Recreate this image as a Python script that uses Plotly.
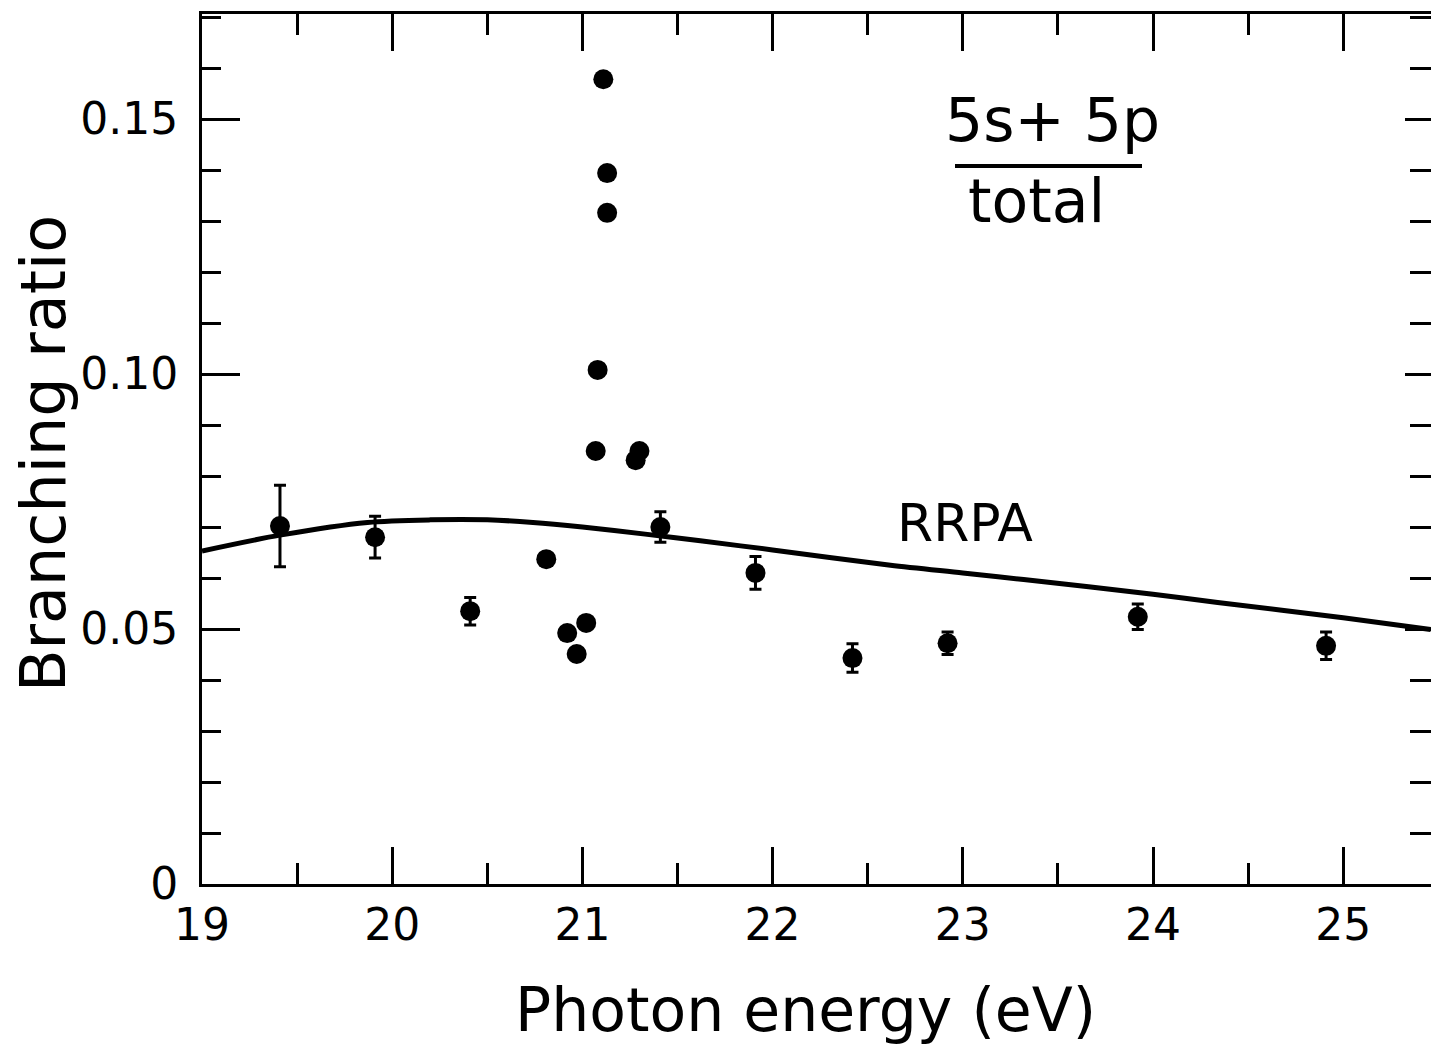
import plotly.graph_objects as go

# ---- data ----
energy = [19.41, 19.91, 20.41, 20.81, 20.92, 20.97, 21.02, 21.07, 21.08, 21.11,
          21.13, 21.13, 21.28, 21.30, 21.41, 21.91, 22.42, 22.92, 23.92, 24.91]
ratio = [0.0702, 0.0680, 0.0535, 0.0637, 0.0492, 0.0451, 0.0512, 0.0849, 0.1008, 0.1578,
         0.1394, 0.1316, 0.0831, 0.0849, 0.0700, 0.0610, 0.0443, 0.0472, 0.0524, 0.0467]
err = [0.0080, 0.0041, 0.0027, None, None, None, None, None, None, None,
       None, None, None, None, 0.0030, 0.0032, 0.0028, 0.0022, 0.0025, 0.0027]

rrpa_energy = [19.0, 19.41, 19.87, 20.2, 20.5, 20.74, 21.0, 21.33, 21.62, 22.0,
               22.62, 23.0, 23.32, 24.0, 24.34, 25.0, 25.46]
rrpa_ratio = [0.0653, 0.0684, 0.0709, 0.0714, 0.0714, 0.0709, 0.0700, 0.0686, 0.0673, 0.0655,
              0.0625, 0.0610, 0.0597, 0.0568, 0.0552, 0.0522, 0.0499]

x_ticks = [19, 20, 21, 22, 23, 24, 25]
y_ticks = [0, 0.05, 0.10, 0.15]
y_ticktext = ["0", "0.05", "0.10", "0.15"]

# ---- layout geometry (pixels) ----
W, H = 1431, 1047
L, R, T, B = 202, 0, 14, 163
PW, PH = W - L - R, H - T - B
XMIN, XPX = 19.0, 190.2      # px per eV
YPX = 5100.0                  # px per unit ratio
FONT = "DejaVu Sans"
YRANGE = [0, PH / YPX]


def px(xp):
    return (xp - L) / PW


def py(yp):
    return (H - B - yp) / PH


fig = go.Figure()

fig.add_trace(go.Scatter(
    x=rrpa_energy, y=rrpa_ratio, mode="lines",
    line=dict(color="black", width=5, shape="spline", smoothing=0.8),
    hoverinfo="skip", showlegend=False))

e_err = [e for e, s in zip(energy, err) if s is not None]
r_err = [r for r, s in zip(ratio, err) if s is not None]
s_err = [s for s in err if s is not None]
e_no = [e for e, s in zip(energy, err) if s is None]
r_no = [r for r, s in zip(ratio, err) if s is None]

fig.add_trace(go.Scatter(
    x=e_err, y=r_err, mode="markers",
    marker=dict(color="black", size=20),
    error_y=dict(type="data", array=s_err, visible=True, color="black",
                 thickness=3, width=6),
    showlegend=False))
fig.add_trace(go.Scatter(
    x=e_no, y=r_no, mode="markers",
    marker=dict(color="black", size=20),
    showlegend=False))
# invisible trace anchoring the right-hand tick axis
fig.add_trace(go.Scatter(x=[XMIN], y=[0], yaxis="y2", mode="markers",
                         marker=dict(opacity=0), hoverinfo="skip",
                         showlegend=False))

tickfont = dict(family=FONT, size=44, color="black")

fig.update_layout(
    xaxis=dict(
        range=[XMIN, XMIN + PW / XPX],
        showline=True, linecolor="black", linewidth=3, mirror="ticks",
        ticks="inside", tickcolor="black", tickwidth=3, ticklen=37,
        tickmode="array", tickvals=x_ticks, ticktext=[str(v) for v in x_ticks],
        ticklabelstandoff=0,
        minor=dict(dtick=0.5, tick0=19, ticks="inside", ticklen=21,
                   tickwidth=3, tickcolor="black", showgrid=False),
        showgrid=False, zeroline=False, tickfont=tickfont),
    yaxis=dict(
        range=YRANGE,
        showline=True, linecolor="black", linewidth=3, mirror=False,
        ticks="inside", tickcolor="black", tickwidth=3, ticklen=38,
        tickmode="array", tickvals=y_ticks, ticktext=y_ticktext,
        ticklabelstandoff=12,
        minor=dict(dtick=0.01, tick0=0, ticks="inside", ticklen=19,
                   tickwidth=3, tickcolor="black", showgrid=False),
        showgrid=False, zeroline=False, tickfont=tickfont),
    yaxis2=dict(
        range=YRANGE, overlaying="y", side="right",
        showline=False, showticklabels=False,
        ticks="inside", tickcolor="black", tickwidth=3, ticklen=26,
        tickmode="array", tickvals=y_ticks,
        minor=dict(dtick=0.01, tick0=0, ticks="inside", ticklen=21,
                   tickwidth=3, tickcolor="black", showgrid=False),
        showgrid=False, zeroline=False),
)

annotations = [
    dict(text="Photon energy (eV)", x=px(805), y=py(1010), size=60),
    dict(text="Branching ratio", x=px(43), y=py(454), size=62, angle=-90),
    dict(text="5s+ 5p", x=px(1052), y=py(120), size=60),
    dict(text="total", x=px(1036), y=py(201), size=60),
    dict(text="RRPA", x=px(965), y=py(523), size=52),
]
fig.update_layout(annotations=[
    dict(text=a["text"], x=a["x"], y=a["y"], xref="paper", yref="paper",
         xanchor="center", yanchor="middle", showarrow=False,
         textangle=a.get("angle", 0),
         font=dict(family=FONT, size=a["size"], color="black"))
    for a in annotations])

fig.add_shape(type="line", xref="paper", yref="paper",
              x0=px(955), x1=px(1142), y0=py(166), y1=py(166),
              line=dict(color="black", width=4))

fig.update_layout(
    width=W, height=H,
    margin=dict(l=L, r=R, t=T, b=B, pad=0),
    paper_bgcolor="white", plot_bgcolor="white",
    showlegend=False,
    font=dict(family=FONT, color="black"),
)

fig.write_html("out.html")
